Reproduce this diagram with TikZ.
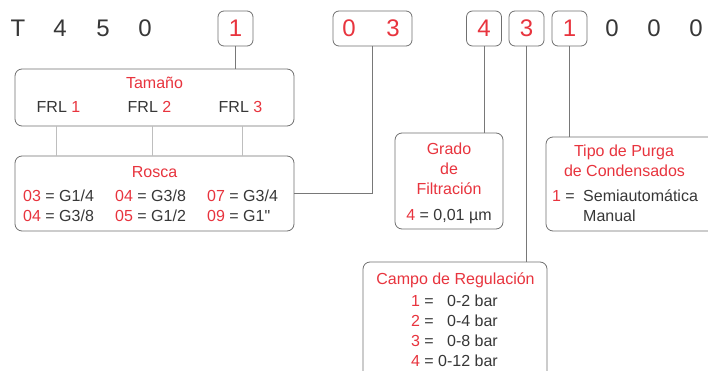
\documentclass[tikz,border=0pt]{standalone}
\usepackage{fontspec}
\setmainfont{Liberation Sans}
\newfontfamily\rawf{Liberation Sans}
\definecolor{rd}{RGB}{232,52,62}
\definecolor{tx}{RGB}{55,55,55}
\definecolor{bd}{RGB}{112,112,112}
\definecolor{ln}{RGB}{120,120,120}
\definecolor{lt}{RGB}{190,190,190}
\begin{document}
\begin{tikzpicture}[x=1pt,y=-1pt,
  digitbox/.style={draw=bd, rounded corners=6pt, minimum width=35pt, minimum height=35pt, inner sep=0pt, line width=0.8pt},
  bigtxt/.style={font=\fontsize{24}{28}\selectfont, text=tx, anchor=base, inner sep=0pt},
  bigred/.style={bigtxt, text=rd},
  infobox/.style={draw=bd, rounded corners=7pt, line width=0.8pt, inner sep=0pt},
  tt/.style={font=\fontsize{16}{19}\selectfont, text=tx, anchor=base, inner sep=0pt},
  rr/.style={tt, text=rd},
  conn/.style={draw=ln, line width=0.8pt},
  lconn/.style={draw=lt, line width=0.8pt}]
\useasboundingbox (0,0) rectangle (708,371);
\clip (0,0) rectangle (708,371);
\fill[white] (0,0) rectangle (708,371);
% top code
\node[bigtxt] (cT) at (18,37) {T};
\node[bigtxt] (c4) at (60,37) {4};
\node[bigtxt] (c5) at (103,37) {5};
\node[bigtxt] (c0) at (145,37) {0};
\node[digitbox] (d1) at (235.5,28.5) {};
\node[bigred] (t1) at (235.5,37) {1};
\node[digitbox, minimum width=79pt] (d03) at (372.5,28.5) {};
\node[bigred] (t0) at (349,37) {0};
\node[bigred] (t3) at (393,37) {3};
\node[digitbox] (d4) at (484,28.5) {};
\node[bigred] (t4) at (484,37) {4};
\node[digitbox] (d3) at (526.5,28.5) {};
\node[bigred] (t3b) at (526.5,37) {3};
\node[digitbox] (d1b) at (569.5,28.5) {};
\node[bigred] (t1b) at (569.5,37) {1};
\node[bigtxt] (z1) at (612,37) {0};
\node[bigtxt] (z2) at (654,37) {0};
\node[bigtxt] (z3) at (696,37) {0};
% Tamano box
\node[infobox, minimum width=279pt, minimum height=57pt] (tam) at (154.5,97.5) {};
\node[rr] (tamt) at (154.5,89) {Tamaño};
\node[tt] (f1) at (58.5,113) {FRL \textcolor{rd}{1}};
\node[tt] (f2) at (149.5,113) {FRL \textcolor{rd}{2}};
\node[tt] (f3) at (240.5,113) {FRL \textcolor{rd}{3}};
% Rosca box
\node[infobox, minimum width=279pt, minimum height=75pt] (ros) at (154.5,193.5) {};
\node[rr] (rost) at (154.5,177.5) {Rosca};
\node[tt, anchor=base west] (r11) at (23,201.5) {\textcolor{rd}{03} = G1/4};
\node[tt, anchor=base west] (r12) at (115,201.5) {\textcolor{rd}{04} = G3/8};
\node[tt, anchor=base west] (r13) at (207,201.5) {\textcolor{rd}{07} = G3/4};
\node[tt, anchor=base west] (r21) at (23,222) {\textcolor{rd}{04} = G3/8};
\node[tt, anchor=base west] (r22) at (115,222) {\textcolor{rd}{05} = G1/2};
\node[tt, anchor=base west] (r23) at (207,222) {\textcolor{rd}{09} = G1{\rawf"}};
% Grado box
\node[infobox, minimum width=108pt, minimum height=96pt] (gra) at (449,181) {};
\node[rr] (g1) at (449,154.5) {Grado};
\node[rr] (g2) at (449,174.5) {de};
\node[rr] (g3) at (449,195) {Filtración};
\node[tt] (g4) at (449,220.5) {\textcolor{rd}{4} = 0,01 µm};
% Tipo box
\node[infobox, minimum width=179pt, minimum height=94pt] (tip) at (635.5,184) {};
\node[rr] (p1) at (624,156.5) {Tipo de Purga};
\node[rr] (p2) at (624.5,176.5) {de Condensados};
\node[tt, anchor=base east] (p3a) at (575,201) {\textcolor{rd}{1} =};
\node[tt, anchor=base west] (p3b) at (583,201) {Semiautomática};
\node[tt, anchor=base west] (p4) at (583,221) {Manual};
% Campo box
\node[infobox, minimum width=184pt, minimum height=158pt] (cam) at (455,341) {};
\node[rr] (ct) at (455.5,284) {Campo de Regulación};
\node[tt, anchor=base east] (k1a) at (434,306.5) {\textcolor{rd}{1} =};
\node[tt, anchor=base east] (k1b) at (498,306.5) {0-2 bar};
\node[tt, anchor=base east] (k2a) at (434,326.5) {\textcolor{rd}{2} =};
\node[tt, anchor=base east] (k2b) at (498,326.5) {0-4 bar};
\node[tt, anchor=base east] (k3a) at (434,346.5) {\textcolor{rd}{3} =};
\node[tt, anchor=base east] (k3b) at (498,346.5) {0-8 bar};
\node[tt, anchor=base east] (k4a) at (434,366.5) {\textcolor{rd}{4} =};
\node[tt, anchor=base east] (k4b) at (498,366.5) {0-12 bar};
% connectors
\draw[conn] (d1.south) -- (d1.south |- tam.north);
\draw[conn] (d03.south) |- (ros.east);
\draw[conn] (d4.south) -- (d4.south |- gra.north);
\draw[conn] (d3.south) -- (d3.south |- cam.north);
\draw[conn] (d1b.south) -- (d1b.south |- tip.north);
\coordinate (x1) at (56,0);
\coordinate (x2) at (152,0);
\coordinate (x3) at (242,0);
\draw[lconn] (tam.south -| x1) -- (ros.north -| x1);
\draw[lconn] (tam.south -| x2) -- (ros.north -| x2);
\draw[lconn] (tam.south -| x3) -- (ros.north -| x3);
\end{tikzpicture}
\end{document}
